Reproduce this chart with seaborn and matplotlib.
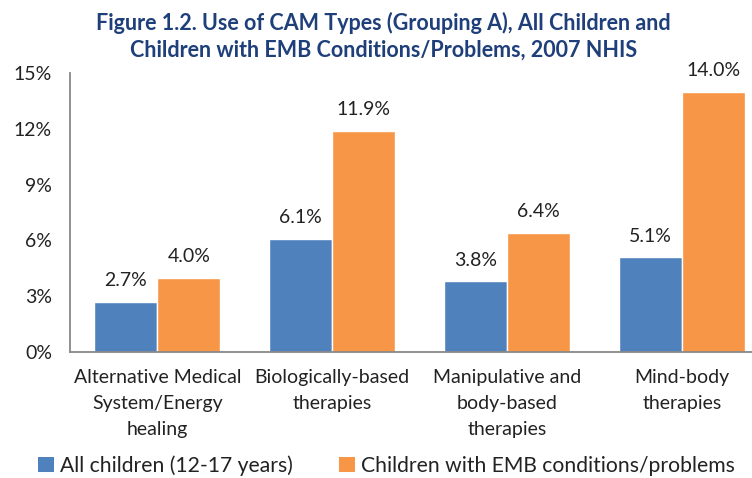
import matplotlib
matplotlib.use("Agg")
import matplotlib.pyplot as plt
import seaborn as sns
import pandas as pd
from matplotlib.patches import Patch

categories = ["Alternative Medical\nSystem/Energy\nhealing", "Biologically-based\ntherapies",
              "Manipulative and\nbody-based\ntherapies", "Mind-body\ntherapies"]
series_names = ["All children (12-17 years)", "Children with EMB conditions/problems"]
all_children = [2.7, 6.1, 3.8, 5.1]
emb_children = [4.0, 11.9, 6.4, 14.0]
y_ticks = [0, 3, 6, 9, 12, 15]
colors = ["#4F81BD", "#F79646"]

df = pd.DataFrame({
    "cat": categories * 2,
    "series": [series_names[0]] * 4 + [series_names[1]] * 4,
    "value": all_children + emb_children,
})

sns.set_theme(style="white")
plt.rcParams["font.family"] = ["Lato", "DejaVu Sans"]

fig = plt.figure(figsize=(7.52, 4.78), dpi=100)
ax = fig.add_axes([70 / 752, 1 - 352 / 478, 1 - 70 / 752, (352 - 73) / 478])
sns.barplot(data=df, x="cat", y="value", hue="series", palette=colors,
            width=0.72, ax=ax, legend=False, saturation=1)

for cont in ax.containers:
    ax.bar_label(cont, labels=[f"{v:.1f}%" for v in cont.datavalues], padding=9,
                 fontsize=14, color="#222222")

ax.set_ylim(0, 15)
ax.set_xlim(-0.5, 3.4)
ax.set_yticks(y_ticks)
ax.set_yticklabels([f"{t}%" for t in y_ticks], fontsize=14, color="#222222")
ax.set_xticklabels(categories, fontsize=14, color="#222222", linespacing=1.65)
ax.tick_params(axis="x", length=0, pad=12)
ax.tick_params(axis="y", length=0, pad=13)
ax.set_xlabel("")
ax.set_ylabel("")
for s in ["top", "right"]:
    ax.spines[s].set_visible(False)
for s in ["left", "bottom"]:
    ax.spines[s].set_color("#888888")
    ax.spines[s].set_linewidth(1.3)

fig.text(0.51, 0.975, "Figure 1.2. Use of CAM Types (Grouping A), All Children and\nChildren with EMB Conditions/Problems, 2007 NHIS",
         ha="center", va="top", fontsize=15.5, fontweight="bold", color="#1F3F7A", linespacing=1.35)

handles = [Patch(facecolor=c, edgecolor="none") for c in colors]
fig.legend(handles, series_names, loc="lower left", bbox_to_anchor=(0.025, -0.035), ncol=2,
           frameon=False, fontsize=15.2, handlelength=0.75, handleheight=0.75,
           handletextpad=0.3, columnspacing=2.2, labelcolor="#222222")

fig.savefig("out.png", dpi=100)
